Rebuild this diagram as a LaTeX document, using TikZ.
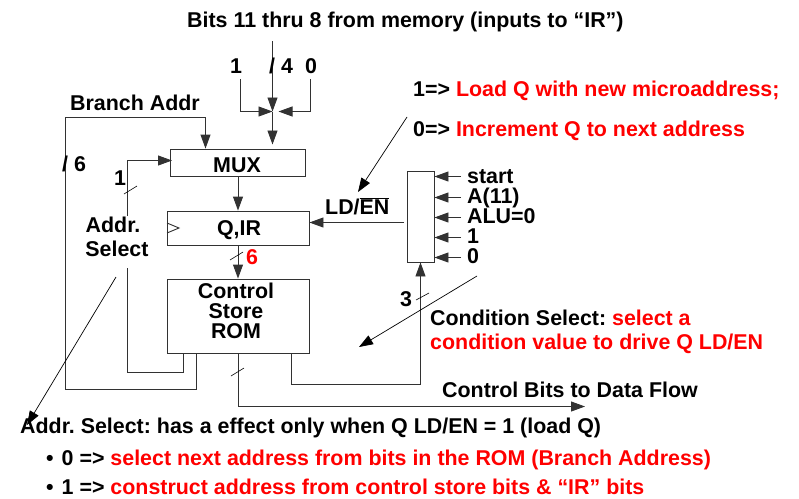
\documentclass[tikz,border=0pt]{standalone}
\usepackage{fontspec}
\setmainfont{Liberation Sans}
\usetikzlibrary{arrows.meta,calc}
\definecolor{hot}{RGB}{255,0,0}
\definecolor{ln}{RGB}{50,50,50}
\tikzset{
  wire/.style={draw=ln,line width=0.9pt},
  arr/.style={wire,-{Triangle[length=14pt,width=10pt]}},
  thin arr/.style={draw=black,line width=0.7pt,-{Triangle[length=14pt,width=10pt]}},
  tick/.style={draw=black,line width=0.6pt},
  blk/.style={draw=ln,line width=0.9pt,fill=white,inner sep=0pt},
  lab/.style={inner sep=0pt,anchor=base west,font=\fontsize{21.4}{24}\selectfont\bfseries\frenchspacing},
  clab/.style={lab,anchor=base,align=center},
}
\begin{document}
\begin{tikzpicture}[x=1pt,y=-1pt]
\useasboundingbox (0,0) rectangle (799,498);
% boxes
\node[blk,minimum width=135pt,minimum height=27pt] (mux) at (237.5,162.5) {};
\node[blk,minimum width=142pt,minimum height=34pt] (qir) at (238,228) {};
\node[blk,minimum width=142pt,minimum height=74pt] (rom) at (238,316) {};
\node[blk,minimum width=27pt,minimum height=91pt] (cmux) at (420.5,216.5) {};
% free ends
\coordinate (top) at (272.5,41);
\coordinate (mid) at (272.5,111.5);
\coordinate (one) at (240.5,79);
\coordinate (zero) at (310.5,79);
\coordinate (bin) at (205.5,149);
\coordinate (bout) at (196.5,353);
\coordinate (abot) at (183.5,353);
\coordinate (atop) at (127.5,216);
\coordinate (abase) at (127.5,268);
\coordinate (muxin) at (172,160.5);
% top inputs
\draw[arr] (top) -- (mid);
\draw[arr] (mid) -- ($(mid)+(0,33)$);
\draw[arr] (one) |- ($(mid)+(0,0)$);
\draw[arr] (zero) |- ($(mid)+(6,0)$);
% branch addr
\draw[arr] (bout) -- (196.5,389.5) -- (65.5,389.5) -- (65.5,117.5) -- (205.5,117.5) -- (bin |- mux.north);
% addr select
\draw[arr] (atop) |- (muxin);
\draw[wire] (abase) -- (127.5,372.5) -- (183.5,372.5) -- (abot);
\draw[tick] (124,194) -- (137,186);
% data path
\draw[arr] (mux.south -| qir.north) -- (qir.north);
\draw[arr] (qir.south) -- (rom.north);
\draw[tick] (230,260) -- (243,252);
\draw[wire] (167,223) -- (179,228) -- (167,233);
% LD/EN
\coordinate (ldsrc) at (404,222.5);
\draw[arr] (ldsrc) -- (ldsrc -| qir.east);
% inputs to condition mux
\foreach \n/\yy in {a/176.5,b/197.5,c/217.5,d/237.5,e/257.5}{
  \coordinate (in\n) at (461,\yy);
  \draw[arr] (in\n) -- (in\n -| cmux.east);
}
% condition select
\coordinate (rc) at (291.5,353);
\draw[arr] (rc) -- (291.5,384.5) -- (420.5,384.5) -- (cmux.south);
\draw[tick] (416,300) -- (429,293);
% control bits
\coordinate (cb) at (585,406.5);
\draw[arr] (rom.south) -- (238,406.5) -- (cb);
\draw[tick] (231,376) -- (244,368);
% callout arrows
\coordinate (c1a) at (407,117); \coordinate (c1b) at (358,192);
\coordinate (c2a) at (477,276); \coordinate (c2b) at (359,347);
\coordinate (c3a) at (116,277); \coordinate (c3b) at (27,425);
\draw[thin arr] (c1a) -- (c1b);
\draw[thin arr] (c2a) -- (c2b);
\draw[thin arr] (c3a) -- (c3b);
% labels
\node[lab] (t1) at (187,27) {Bits 11 thru 8 from memory (inputs to “IR”)};
\node[lab] (t2) at (230,73) {1};
\node[lab] (t3) at (269,73) {/ 4};
\node[lab] (t4) at (305,73) {0};
\node[lab] (t5) at (70,110) {Branch Addr};
\node[lab] (t6) at (62,171) {/ 6};
\node[lab] (t7) at (114,185) {1};
\node[clab] (t8) at (113,232) {Addr.};
\node[clab] (t9) at (117,256) {Select};
\node[clab] (t10) at (237,172) {MUX};
\node[clab] (t11) at (239,235) {Q,IR};
\node[lab,text=hot] (t12) at (246,264) {6};
\node[clab] (t13) at (236,298) {Control};
\node[clab] (t14) at (236,318) {Store};
\node[clab] (t15) at (236,338) {ROM};
\node[lab] (t16) at (325,214) {LD/$\overline{\mbox{EN}}$};
\node[lab] (t17) at (413,96) {1=> \textcolor{hot}{Load Q with new microaddress;}};
\node[lab] (t18) at (413,136) {0=> \textcolor{hot}{Increment Q to next address}};
\node[lab] (t19) at (467,183) {start};
\node[lab] (t20) at (467,203) {A(11)};
\node[lab] (t21) at (467,223) {ALU=0};
\node[lab] (t22) at (467,243) {1};
\node[lab] (t23) at (467,263) {0};
\node[lab] (t24) at (400,306) {3};
\node[lab] (t25) at (430,325) {Condition Select: \textcolor{hot}{select a}};
\node[lab] (t26) at (430,349) {\textcolor{hot}{condition value to drive Q LD/EN}};
\node[lab] (t27) at (442,397) {Control Bits to Data Flow};
\node[lab] (t28) at (20,433) {Addr. Select: has a effect only when Q LD/EN = 1 (load Q)};
\node[lab] (t29) at (46,465) {\textbullet\hspace{8pt}0 => \textcolor{hot}{select next address from bits in the ROM (Branch Address)}};
\node[lab] (t30) at (46,494) {\textbullet\hspace{8pt}1 => \textcolor{hot}{construct address from control store bits \& “IR” bits}};
\end{tikzpicture}
\end{document}
